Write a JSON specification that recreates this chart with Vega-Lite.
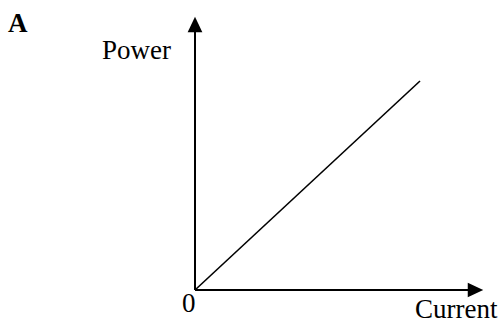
{
  "$schema": "https://vega.github.io/schema/vega-lite/v6.json",
  "width": 503,
  "height": 325,
  "padding": 0,
  "autosize": {"type": "none"},
  "background": "white",
  "config": {"view": {"stroke": null}},
  "datasets": {
    "axes": [
      {"axis": "y", "x": 0, "y": 0, "x2": 0, "y2": 262},
      {"axis": "x", "x": 0, "y": 0, "x2": 276, "y2": 0}
    ],
    "curve": [
      {"current": 0, "power": 0},
      {"current": 225, "power": 209}
    ],
    "heads": [
      {"dir": "up", "x": 0, "y": 265.5},
      {"dir": "right", "x": 280.5, "y": 0}
    ],
    "labels": [
      {"text": "Power", "x": -93, "y": 231},
      {"text": "0", "x": -13, "y": -22},
      {"text": "Current", "x": 220, "y": -28}
    ],
    "title": [
      {"text": "A", "x": -187, "y": 258}
    ]
  },
  "layer": [
    {
      "data": {"name": "axes"},
      "mark": {"type": "rule", "color": "black", "strokeWidth": 2},
      "encoding": {
        "x": {"field": "x", "type": "quantitative", "scale": {"domain": [-195, 308]}, "axis": null},
        "y": {"field": "y", "type": "quantitative", "scale": {"domain": [-35, 290]}, "axis": null},
        "x2": {"field": "x2"},
        "y2": {"field": "y2"}
      }
    },
    {
      "data": {"name": "curve"},
      "mark": {"type": "line", "color": "black", "strokeWidth": 1.6},
      "encoding": {
        "x": {"field": "current", "type": "quantitative", "scale": {"domain": [-195, 308]}, "axis": null},
        "y": {"field": "power", "type": "quantitative", "scale": {"domain": [-35, 290]}, "axis": null}
      }
    },
    {
      "data": {"name": "heads"},
      "mark": {"type": "point", "filled": true, "color": "black", "opacity": 1, "size": 240},
      "encoding": {
        "x": {"field": "x", "type": "quantitative", "scale": {"domain": [-195, 308]}, "axis": null},
        "y": {"field": "y", "type": "quantitative", "scale": {"domain": [-35, 290]}, "axis": null},
        "shape": {
          "field": "dir", "type": "nominal", "legend": null,
          "scale": {"domain": ["up", "right"], "range": ["M-0.95,1L0,-1L0.95,1Z", "M-1,-0.95L1,0L-1,0.95Z"]}
        }
      }
    },
    {
      "data": {"name": "labels"},
      "mark": {"type": "text", "font": "Liberation Serif", "fontSize": 27, "align": "left", "baseline": "alphabetic", "color": "black"},
      "encoding": {
        "x": {"field": "x", "type": "quantitative", "scale": {"domain": [-195, 308]}, "axis": null},
        "y": {"field": "y", "type": "quantitative", "scale": {"domain": [-35, 290]}, "axis": null},
        "text": {"field": "text"}
      }
    },
    {
      "data": {"name": "title"},
      "mark": {"type": "text", "font": "Liberation Serif", "fontSize": 27, "fontWeight": "bold", "align": "left", "baseline": "alphabetic", "color": "black"},
      "encoding": {
        "x": {"field": "x", "type": "quantitative", "scale": {"domain": [-195, 308]}, "axis": null},
        "y": {"field": "y", "type": "quantitative", "scale": {"domain": [-35, 290]}, "axis": null},
        "text": {"field": "text"}
      }
    }
  ]
}
